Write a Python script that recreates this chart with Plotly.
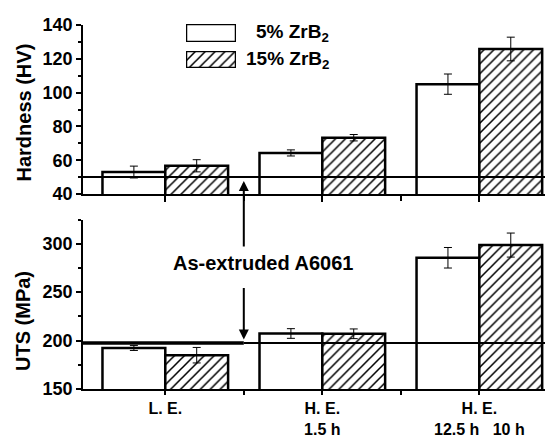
import plotly.graph_objects as go

# ---- data ----
categories = [1, 2, 3]
tick_labels = ["L. E.", "H. E.<br>1.5 h", "H. E.<br>12.5 h\u00a0\u00a0\u00a010 h"]
series_names = ["5% ZrB<sub>2</sub>", "15% ZrB<sub>2</sub>"]

hardness_5 = [53, 64.3, 105]
hardness_5_err = [3.5, 1.8, 6]
hardness_15 = [56.7, 73.3, 125.8]
hardness_15_err = [3.6, 1.9, 7]

uts_5 = [192.4, 207.3, 285.5]
uts_5_err = [2.6, 5, 10.6]
uts_15 = [184.9, 207, 298.6]
uts_15_err = [8, 5, 12.4]

baseline_hardness = 50
baseline_uts = 197.5
baseline_label = "As-extruded A6061"

FONT = "Liberation Sans"
XR = [0.476, 3.418]
BW = 0.4

fig = go.Figure()

def pattern(hatched):
    return dict(shape="/" if hatched else "", fgcolor="black", bgcolor="white",
                fgopacity=1, size=7, solidity=0.22)

def bars(vals, errs, hatched, xa, ya):
    return go.Bar(
        x=categories, y=vals, width=BW, offset=0 if hatched else -BW,
        xaxis=xa, yaxis=ya, showlegend=False,
        marker=dict(color="white", line=dict(color="black", width=2.5),
                    pattern=pattern(hatched)),
        error_y=dict(type="data", array=errs, color="black", thickness=1, width=4),
    )

fig.add_trace(bars(hardness_5, hardness_5_err, False, "x", "y"))
fig.add_trace(bars(hardness_15, hardness_15_err, True, "x", "y"))
fig.add_trace(bars(uts_5, uts_5_err, False, "x2", "y2"))
fig.add_trace(bars(uts_15, uts_15_err, True, "x2", "y2"))

# legend swatches
for i, (xa, ya) in enumerate([("x3", "y3"), ("x4", "y4")]):
    fig.add_trace(go.Bar(
        x=[0], y=[1], base=[0], width=1, xaxis=xa, yaxis=ya, showlegend=False,
        cliponaxis=False, hoverinfo="skip",
        marker=dict(color="white", line=dict(color="black", width=2.5),
                    pattern=pattern(i == 1)),
    ))

H = 438.0
W = 462.0
def py(p):
    return 1 - p / H
def px(p):
    return (p - 83) / W

tickfont = dict(family=FONT, size=18, color="black", weight="bold")
axis_common = dict(showline=True, linecolor="black", linewidth=1.5, ticks="outside",
                   tickcolor="black", tickwidth=1.5, showgrid=False, zeroline=False,
                   automargin=False, tickfont=tickfont)

fig.update_layout(
    width=545, height=438,
    margin=dict(l=83, r=0, t=0, b=0),
    paper_bgcolor="white", plot_bgcolor="rgba(0,0,0,0)",
    barmode="overlay",
    xaxis=dict(**axis_common, domain=[0, 1], anchor="y", range=XR, tickmode="array",
               tickvals=categories, ticklen=6, showticklabels=False,
               minor=dict(tickmode="array", tickvals=[1.5, 2.5], ticklen=5,
                          ticks="outside", tickcolor="black", tickwidth=1.5)),
    yaxis=dict(**axis_common, domain=[py(194), py(25)], anchor="x", range=[40, 140],
               tickmode="array", tickvals=[40, 60, 80, 100, 120, 140], ticklen=5,
               minor=dict(dtick=10, tick0=0, ticklen=3, ticks="outside",
                          tickcolor="black", tickwidth=1.5)),
    xaxis2=dict(**axis_common, domain=[0, 1], anchor="y2", range=XR, tickmode="array",
                tickvals=categories, ticktext=tick_labels, ticklen=4,
                minor=dict(tickmode="array", tickvals=[1.5, 2.5], ticklen=4,
                           ticks="outside", tickcolor="black", tickwidth=1.5)),
    yaxis2=dict(**axis_common, domain=[py(389), py(219.5)], anchor="x2", range=[150, 325],
                tickmode="array", tickvals=[150, 200, 250, 300], ticklen=5,
                minor=dict(dtick=25, tick0=0, ticklen=3, ticks="outside",
                           tickcolor="black", tickwidth=1.5)),
    xaxis3=dict(domain=[px(186), px(236)], anchor="y3", range=[-0.5, 0.5], visible=False),
    yaxis3=dict(domain=[py(42), py(24)], anchor="x3", range=[0, 1], visible=False),
    xaxis4=dict(domain=[px(186), px(236)], anchor="y4", range=[-0.5, 0.5], visible=False),
    yaxis4=dict(domain=[py(68), py(51)], anchor="x4", range=[0, 1], visible=False),
)
fig.update_xaxes(selector=dict(anchor="y2"), tickfont=dict(family=FONT, size=16, color="black", weight="bold"))

# baseline lines
fig.add_shape(type="line", xref="x", yref="y", x0=XR[0], x1=XR[1],
              y0=baseline_hardness, y1=baseline_hardness, line=dict(color="black", width=2))
fig.add_shape(type="line", xref="x2", yref="y2", x0=XR[0], x1=1.5,
              y0=baseline_uts, y1=baseline_uts, line=dict(color="black", width=3.5))
fig.add_shape(type="line", xref="x2", yref="y2", x0=1.5, x1=XR[1],
              y0=baseline_uts, y1=baseline_uts, line=dict(color="black", width=2))

big = dict(family=FONT, size=20, color="black", weight="bold")

# arrows
fig.add_annotation(x=1.5, y=47.7, xref="x", yref="y", ax=0, ay=67, text="",
                   showarrow=True, arrowhead=2, arrowwidth=2, arrowsize=1, arrowcolor="black")
fig.add_annotation(x=1.5, y=201, xref="x2", yref="y2", ax=0, ay=-53, text="",
                   showarrow=True, arrowhead=2, arrowwidth=2, arrowsize=1, arrowcolor="black")
fig.add_annotation(x=px(263), y=py(263), xref="paper", yref="paper", text=baseline_label,
                   showarrow=False, font=big, xanchor="center", yanchor="middle")

# legend text
for name, yy in zip(series_names, [33, 60]):
    fig.add_annotation(x=px(331), y=py(yy), xref="paper", yref="paper", text=name,
                       showarrow=False, font=dict(family=FONT, size=19, color="black", weight="bold"),
                       xanchor="right", yanchor="middle")

# y titles
fig.add_annotation(x=px(23), y=py(112.5), xref="paper", yref="paper", text="Hardness (HV)",
                   textangle=-90, showarrow=False, font=big, xanchor="center", yanchor="middle")
fig.add_annotation(x=px(23), y=py(321), xref="paper", yref="paper", text="UTS (MPa)",
                   textangle=-90, showarrow=False, font=big, xanchor="center", yanchor="middle")

fig.write_html("out.html", config={"displayModeBar": False},
               post_script="document.body.style.margin='0';document.body.style.overflow='hidden';")
